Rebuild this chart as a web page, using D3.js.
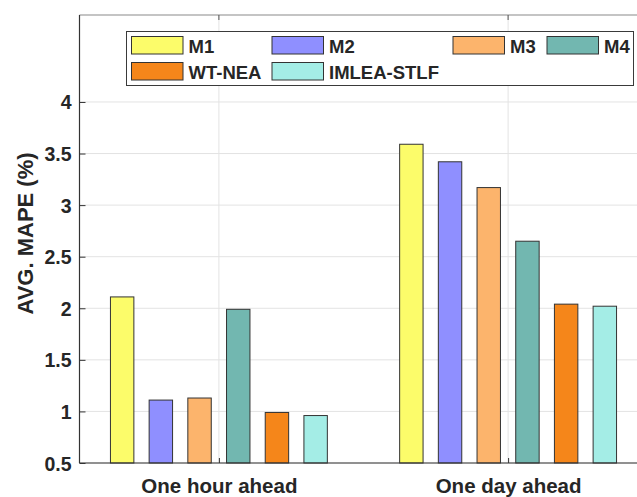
<!DOCTYPE html>
<html><head><meta charset="utf-8">
<script src="https://cdn.jsdelivr.net/npm/d3@7"></script>
<style>body{margin:0;background:#fff}svg{display:block}text{font-family:Arial,"Liberation Sans",sans-serif;font-weight:bold;fill:#262626}</style>
</head><body><svg id="c" width="637" height="497"></svg>
<script>
const categories = ["One hour ahead", "One day ahead"];
const seriesNames = ["M1", "M2", "M3", "M4", "WT-NEA", "IMLEA-STLF"];
const seriesColors = ["#fcfc6a", "#8f8fff", "#fcb46c", "#72b7b0", "#f5861a", "#a4ede6"];
const M1 = [2.11, 3.59];
const M2 = [1.11, 3.42];
const M3 = [1.13, 3.17];
const M4 = [1.99, 2.65];
const WTNEA = [0.99, 2.04];
const IMLEA = [0.96, 2.02];
const yTicks = [0.5, 1, 1.5, 2, 2.5, 3, 3.5, 4];
const values = [M1, M2, M3, M4, WTNEA, IMLEA];

const svg = d3.select("#c");
const L = 79.5, T = 15, B = 463;
const x = d3.scaleLinear().domain([0.518, 2.518]).range([L, L + 2 * 289.2]);
const y = d3.scaleLinear().domain([0.5, 4.843]).range([B, T]);
const offsets = [-2.5, -1.5, -0.5, 0.5, 1.5, 2.5].map(d => d * 0.1338);
const bw = 0.081;

// grid
const g = svg.append("g");
g.selectAll(".hg").data(yTicks).join("line")
  .attr("x1", L).attr("x2", 637).attr("y1", d => y(d)).attr("y2", d => y(d))
  .attr("stroke", "#e3e3e3").attr("stroke-width", 1);
g.selectAll(".vg").data([1, 2]).join("line")
  .attr("x1", d => x(d)).attr("x2", d => x(d)).attr("y1", T).attr("y2", B)
  .attr("stroke", "#e3e3e3").attr("stroke-width", 1);

// bars
values.forEach((vals, si) => {
  svg.append("g").selectAll("rect").data(vals).join("rect")
    .attr("x", (d, i) => x(i + 1 + offsets[si] - bw / 2))
    .attr("width", x(bw) - x(0))
    .attr("y", d => y(d))
    .attr("height", d => y(0.5) - y(d))
    .attr("fill", seriesColors[si])
    .attr("stroke", "#333").attr("stroke-width", 1);
});

// axes box
svg.append("line").attr("x1", L).attr("x2", 637).attr("y1", T).attr("y2", T).attr("stroke", "#8a8a8a").attr("stroke-width", 1.2);
svg.append("line").attr("x1", L).attr("x2", 637).attr("y1", B).attr("y2", B).attr("stroke", "#333").attr("stroke-width", 1.2);
svg.append("line").attr("x1", L).attr("x2", L).attr("y1", T).attr("y2", B).attr("stroke", "#333").attr("stroke-width", 1.2);

// y ticks
const yAxis = d3.axisLeft(y).tickValues(yTicks).tickSize(-6).tickPadding(8).tickFormat(d3.format("~g"));
const ya = svg.append("g").attr("transform", `translate(${L},0)`).call(yAxis);
ya.select(".domain").remove();
ya.selectAll("line").attr("stroke", "#333");
ya.selectAll("text").style("font-size", "19.5px").style("font-weight", "bold").attr("fill", "#262626").attr("dy", "0.36em");

// x ticks
const xAxis = d3.axisBottom(x).tickValues([1, 2]).tickSize(-5).tickPadding(15).tickFormat(d => categories[d - 1]);
const xa = svg.append("g").attr("transform", `translate(0,${B})`).call(xAxis);
xa.select(".domain").remove();
xa.selectAll("line").attr("stroke", "#333");
xa.selectAll("text").style("font-size", "20.5px").style("font-weight", "bold").attr("fill", "#262626");
// top ticks
svg.append("g").selectAll("line").data([1, 2]).join("line")
  .attr("x1", d => x(d)).attr("x2", d => x(d)).attr("y1", T).attr("y2", T + 5).attr("stroke", "#555");

// y label
svg.append("text").attr("transform", `translate(33,233.5) rotate(-90)`)
  .attr("text-anchor", "middle").style("font-size", "22px").text("AVG. MAPE (%)");

// legend
const lg = svg.append("g");
lg.append("rect").attr("x", 126.5).attr("y", 31.5).attr("width", 507).attr("height", 54)
  .attr("fill", "#fff").attr("stroke", "#3a3a3a").attr("stroke-width", 1);
const legPos = [[131.5, 36.5], [272, 36.5], [453, 36.5], [547, 36.5], [131.5, 62.5], [272, 62.5]];
seriesNames.forEach((n, i) => {
  const [lx, ly] = legPos[i];
  lg.append("rect").attr("x", lx).attr("y", ly).attr("width", 51.5).attr("height", 17.5)
    .attr("fill", seriesColors[i]).attr("stroke", "#333").attr("stroke-width", 1);
  lg.append("text").attr("x", lx + 57).attr("y", ly + 16.5).style("font-size", "18.5px").text(n);
});
</script></body></html>
